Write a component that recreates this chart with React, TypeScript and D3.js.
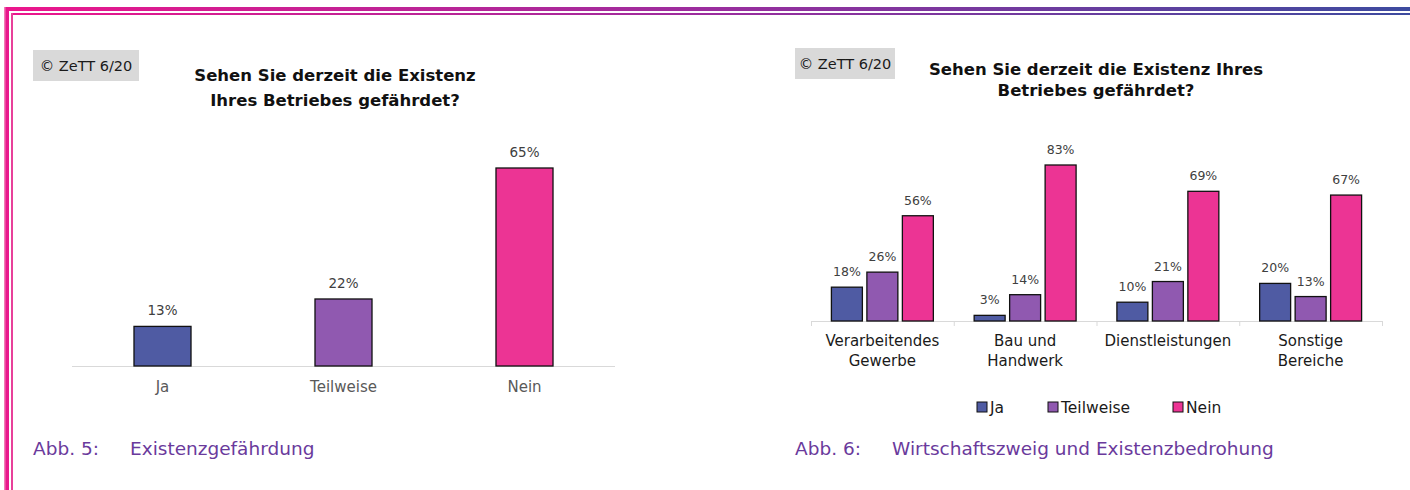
import React from "react";
import { scaleBand, scaleLinear } from "d3";

const width = 1410;
const height = 490;

// chart 1
const answers = ["Ja", "Teilweise", "Nein"];
const totalShares = [13, 22, 65];

// chart 2
const sectors = [
  ["Verarbeitendes", "Gewerbe"],
  ["Bau und", "Handwerk"],
  ["Dienstleistungen"],
  ["Sonstige", "Bereiche"],
];
const jaShares = [18, 3, 10, 20];
const teilweiseShares = [26, 14, 21, 13];
const neinShares = [56, 83, 69, 67];

const colors = ["#4f5ba3", "#9059b0", "#ec3494"];
const font = "'DejaVu Sans', sans-serif";
const captionColor = "#6a3a9c";

const Frame = () => (
  <g>
    <defs>
      <linearGradient id="topGrad" x1="0" x2="1" y1="0" y2="0">
        <stop offset="0" stopColor="#ec168c" />
        <stop offset="0.5" stopColor="#9b2d9e" />
        <stop offset="1" stopColor="#3d4b9f" />
      </linearGradient>
    </defs>
    <rect x={4} y={7} width={width - 4} height={4} fill="url(#topGrad)" />
    <rect x={11} y={13} width={width - 11} height={2} fill="url(#topGrad)" />
    <rect x={4} y={7} width={5} height={height - 7} fill="#e8178c" />
    <rect x={4} y={7} width={1.5} height={height - 7} fill="#f27ab6" />
    <rect x={11} y={13} width={2} height={height - 13} fill="#e8409a" />
  </g>
);

const Badge = ({ x, y, w, h }: { x: number; y: number; w: number; h: number }) => (
  <g>
    <rect x={x} y={y} width={w} height={h} fill="#d9d9d9" />
    <text x={x + w / 2} y={y + h / 2 + 5} textAnchor="middle" fontSize={14.5} fill="#1a1a1a">
      © ZeTT 6/20
    </text>
  </g>
);

const Caption = ({ x, num, label }: { x: number; num: string; label: string }) => (
  <g fontSize={18.5} fill={captionColor}>
    <text x={x} y={455}>{num}</text>
    <text x={x + 97} y={455}>{label}</text>
  </g>
);

const ChartOne = () => {
  const baseline = 366;
  const x = scaleBand<string>()
    .domain(answers)
    .range([72, 615])
    .paddingInner(0.685)
    .paddingOuter(0.3425);
  const y = scaleLinear().domain([0, 65]).range([baseline, 168]);
  return (
    <g>
      <Badge x={33} y={50} w={106} h={31} />
      <text x={335} y={81} textAnchor="middle" fontSize={16.5} fontWeight="bold" fill="#111">
        Sehen Sie derzeit die Existenz
      </text>
      <text x={335} y={106} textAnchor="middle" fontSize={16.5} fontWeight="bold" fill="#111">
        Ihres Betriebes gefährdet?
      </text>
      <line x1={72} x2={615} y1={baseline + 0.5} y2={baseline + 0.5} stroke="#d9d9d9" strokeWidth={1} />
      {answers.map((a, i) => (
        <g key={a}>
          <rect
            x={x(a)}
            y={y(totalShares[i])}
            width={x.bandwidth()}
            height={baseline - y(totalShares[i])}
            fill={colors[i]}
            stroke="#111"
            strokeWidth={1.3}
          />
          <text
            x={(x(a) ?? 0) + x.bandwidth() / 2}
            y={y(totalShares[i]) - 11}
            textAnchor="middle"
            fontSize={13.5}
            fill="#404040"
          >
            {totalShares[i]}%
          </text>
          <text
            x={(x(a) ?? 0) + x.bandwidth() / 2}
            y={392}
            textAnchor="middle"
            fontSize={15}
            fill="#595959"
          >
            {a}
          </text>
        </g>
      ))}
      <Caption x={33} num="Abb. 5:" label="Existenzgefährdung" />
    </g>
  );
};

const ChartTwo = () => {
  const baseline = 321;
  const keys = sectors.map((s) => s.join(" "));
  const series = [jaShares, teilweiseShares, neinShares];
  const x0 = scaleBand<string>().domain(keys).range([811, 1382]);
  const x1 = scaleBand<number>()
    .domain([0, 1, 2])
    .range([0, x0.bandwidth()])
    .paddingInner(0.127)
    .paddingOuter(0.575);
  const y = scaleLinear().domain([0, 83]).range([baseline, 165]);
  const legendItems = [
    { label: answers[0], x: 977 },
    { label: answers[1], x: 1048 },
    { label: answers[2], x: 1173 },
  ];
  return (
    <g>
      <Badge x={795} y={48} w={100} h={31} />
      <text x={1096} y={75} textAnchor="middle" fontSize={16.5} fontWeight="bold" fill="#111">
        Sehen Sie derzeit die Existenz Ihres
      </text>
      <text x={1096} y={96} textAnchor="middle" fontSize={16.5} fontWeight="bold" fill="#111">
        Betriebes gefährdet?
      </text>
      <line x1={811} x2={1382} y1={baseline + 0.5} y2={baseline + 0.5} stroke="#d9d9d9" />
      {[...keys, "end"].map((k, i) => {
        const xx = i < keys.length ? (x0(k) ?? 0) : 1382;
        return (
          <line key={k} x1={xx + 0.5} x2={xx + 0.5} y1={baseline} y2={baseline + 5} stroke="#d9d9d9" />
        );
      })}
      {keys.map((k, gi) => (
        <g key={k} transform={`translate(${x0(k)},0)`}>
          {series.map((s, si) => (
            <g key={si}>
              <rect
                x={x1(si)}
                y={y(s[gi])}
                width={x1.bandwidth()}
                height={baseline - y(s[gi])}
                fill={colors[si]}
                stroke="#111"
                strokeWidth={1.3}
              />
              <text
                x={(x1(si) ?? 0) + x1.bandwidth() / 2}
                y={y(s[gi]) - 11}
                textAnchor="middle"
                fontSize={12.5}
                fill="#404040"
              >
                {s[gi]}%
              </text>
            </g>
          ))}
          {sectors[gi].map((line, li) => (
            <text
              key={li}
              x={x0.bandwidth() / 2}
              y={346 + li * 20}
              textAnchor="middle"
              fontSize={15}
              fill="#1a1a1a"
            >
              {line}
            </text>
          ))}
        </g>
      ))}
      {legendItems.map((l, i) => (
        <g key={l.label}>
          <rect x={l.x} y={402} width={10} height={10} fill={colors[i]} stroke="#111" strokeWidth={1} />
          <text x={l.x + 13} y={413} fontSize={15.5} fill="#1a1a1a">
            {l.label}
          </text>
        </g>
      ))}
      <Caption x={795} num="Abb. 6:" label="Wirtschaftszweig und Existenzbedrohung" />
    </g>
  );
};

export default function App() {
  return (
    <svg
      width={width}
      height={height}
      style={{ position: "absolute", left: 0, top: 0, background: "#fff", fontFamily: font }}
    >
      <rect width={width} height={height} fill="#fff" />
      <Frame />
      <ChartOne />
      <ChartTwo />
    </svg>
  );
}
